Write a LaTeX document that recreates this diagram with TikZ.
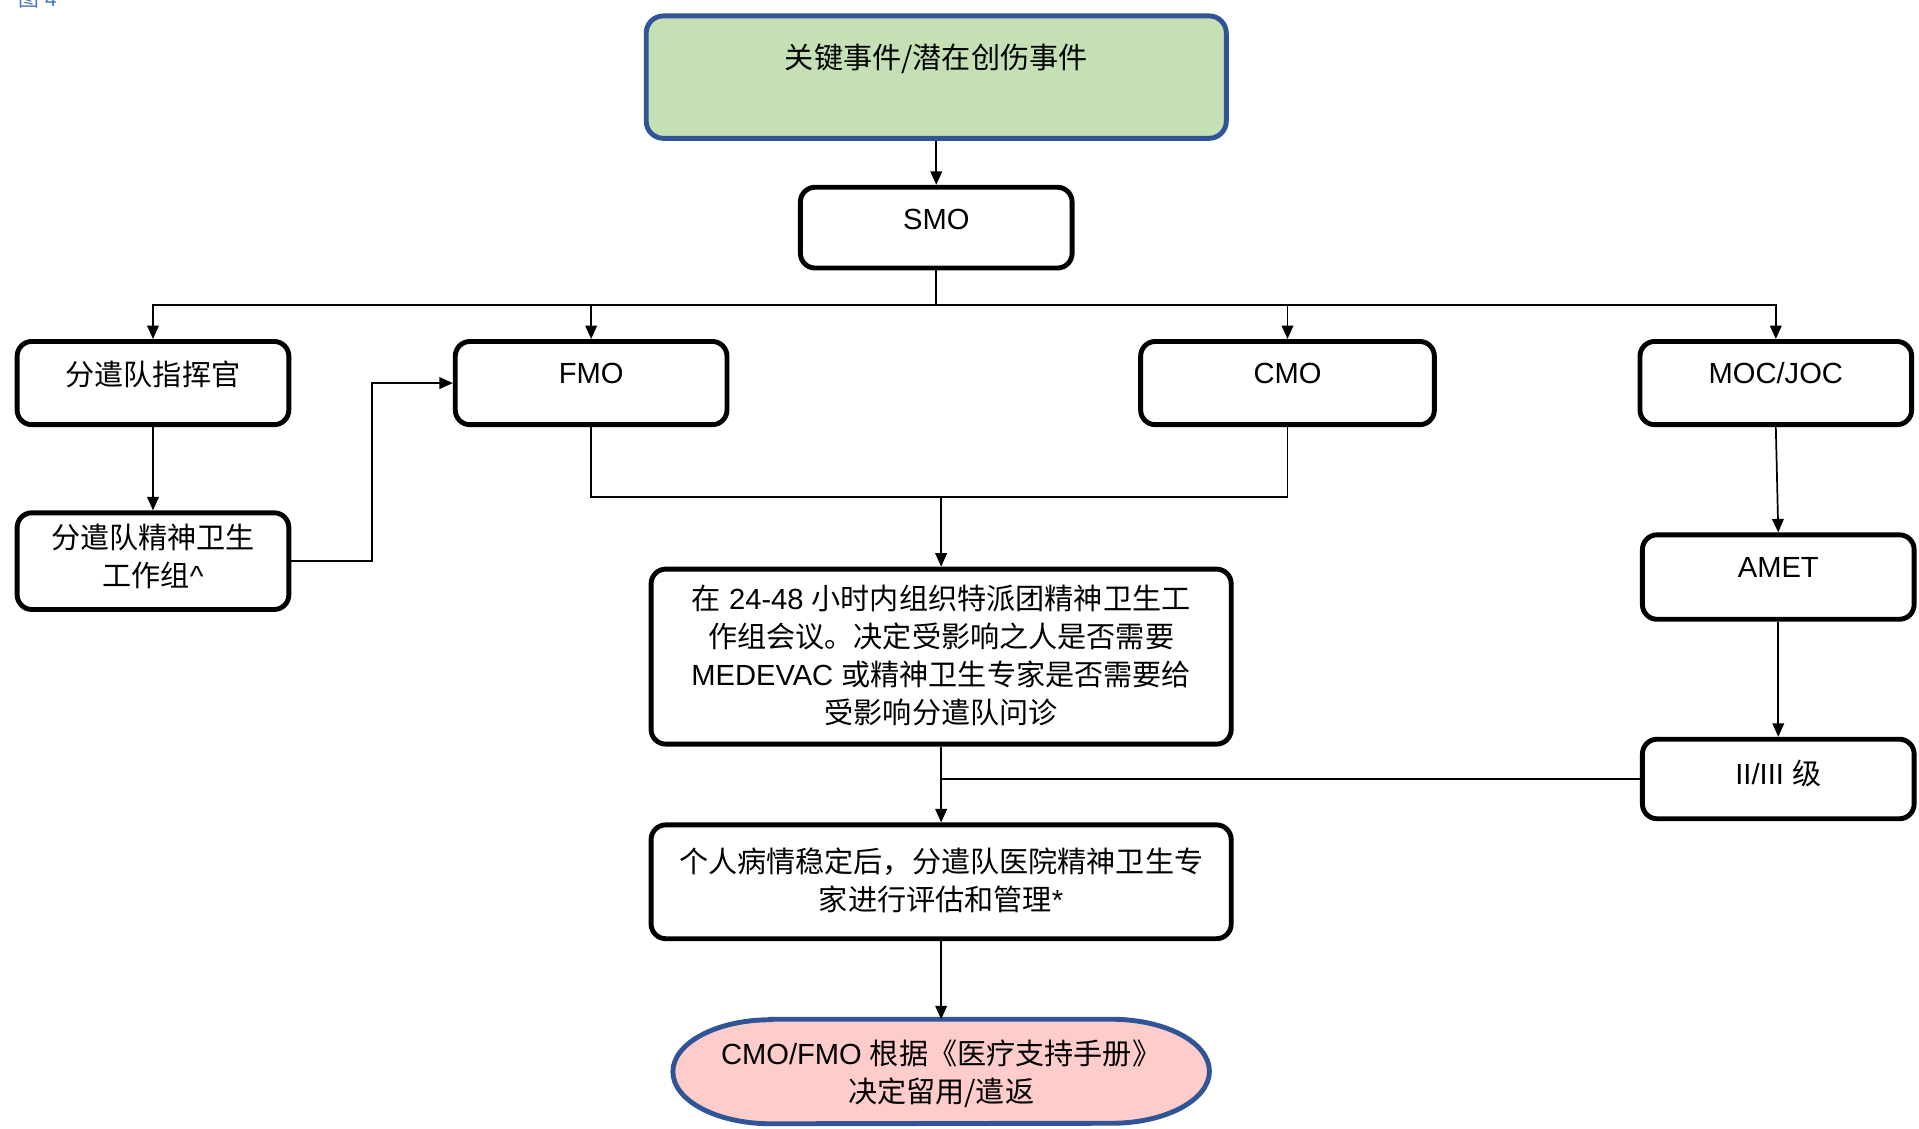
\documentclass[tikz,border=0pt]{standalone}
\usepackage{fontspec}
\setmainfont{Liberation Sans}
\newfontfamily\cjkfont{Noto Sans CJK SC}
\newcommand\zh[1]{{\cjkfont #1}}
\usetikzlibrary{arrows.meta,calc}
\definecolor{edgeblue}{HTML}{2F5597}
\definecolor{eventgreen}{HTML}{C5E0B4}
\definecolor{outcomepink}{HTML}{FFCCCC}
\definecolor{captionblue}{HTML}{4472C4}
\tikzset{
  stepbox/.style={draw=black, line width=4pt, rounded corners=12pt, fill=white,
    inner sep=0pt, minimum width=#1},
  stepbox/.default=222pt,
  boxtext/.style={font=\fontsize{23.8}{31}\selectfont, align=center, inner sep=0pt},
  link/.style={line width=1.4pt, draw=black},
  arr/.style={link, -{Triangle[length=11pt,width=9.5pt]}},
}
\begin{document}
\begin{tikzpicture}[x=1pt,y=1pt]
\useasboundingbox (0,0) rectangle (1568,-922);
\fill[white] (0,0) rectangle (1568,-922);

% figure caption at the top edge
\node[anchor=base west, text=captionblue, font=\fontsize{17}{17}\selectfont, inner sep=0pt]
  (caption) at (15,-5.5) {\zh{图} 4};

% ---- boxes ----
\node[stepbox=474pt, minimum height=100pt, draw=edgeblue, fill=eventgreen, rounded corners=14pt]
  (event) at (765,-63) {};
\node[boxtext] (event-t) at (765,-48) {\zh{关键事件/潜在创伤事件}};

\node[stepbox, minimum height=66pt] (smo) at (765,-186) {};
\node[boxtext] (smo-t) at (765,-179) {SMO};

\node[stepbox, minimum height=68pt] (cmd) at (125,-313) {};
\node[boxtext] (cmd-t) at (125,-306) {\zh{分遣队指挥官}};

\node[stepbox, minimum height=68pt] (fmo) at (483,-313) {};
\node[boxtext] (fmo-t) at (483,-305) {FMO};

\node[stepbox=240pt, minimum height=68pt] (cmo) at (1052,-313) {};
\node[boxtext] (cmo-t) at (1052,-305) {CMO};

\node[stepbox, minimum height=68pt] (moc) at (1451,-313) {};
\node[boxtext] (moc-t) at (1451,-305) {MOC/JOC};

\node[stepbox, minimum height=79pt] (grp) at (125,-458.5) {};
\node[boxtext] (grp-t) at (125,-455) {\zh{分遣队精神卫生}\\\zh{工作组}\textasciicircum};

\node[stepbox=474pt, minimum height=143pt] (meet) at (769,-536.5) {};
\node[boxtext] (meet-t) at (769,-535.5)
  {\zh{在} 24-48 \zh{小时内组织特派团精神卫生工}\\
   \zh{作组会议。决定受影响之人是否需要}\\
   MEDEVAC \zh{或精神卫生专家是否需要给}\\
   \zh{受影响分遣队问诊}};

\node[stepbox, minimum height=69pt] (amet) at (1453,-471.5) {};
\node[boxtext] (amet-t) at (1453,-464) {AMET};

\node[stepbox, minimum height=65pt] (lvl) at (1453,-636.5) {};
\node[boxtext] (lvl-t) at (1453,-632) {II/III \zh{级}};

\node[stepbox=474pt, minimum height=93pt] (care) at (769,-720.5) {};
\node[boxtext] (care-t) at (769,-719.5)
  {\zh{个人病情稳定后，分遣队医院精神卫生专}\\\zh{家进行评估和管理}*};

% terminator with elliptic ends
\node[minimum width=438pt, minimum height=85pt, inner sep=0pt] (final) at (769,-875.5) {};
\draw[line width=4pt, draw=edgeblue, fill=outcomepink]
  ($(final.north west)+(80,0)$) -- ($(final.north east)+(-80,0)$)
  arc[start angle=90, end angle=-90, x radius=80pt, y radius=42.5pt]
  -- ($(final.south west)+(80,0)$)
  arc[start angle=270, end angle=90, x radius=80pt, y radius=42.5pt] -- cycle;
\node[boxtext] (final-t) at (769,-877.5)
  {CMO/FMO \zh{根据《医疗支持手册》}\\\zh{决定留用/遣返}};

% ---- connectors ----
\draw[arr] (event.south) -- (smo.south |- event.south) -- (smo.north);
\coordinate (bus) at (765,-249);
\draw[link] (smo.south) -- (bus);
\draw[arr] (bus) -| (cmd.north);
\draw[arr] (bus) -| (fmo.north);
\draw[arr] (bus) -| (cmo.north);
\draw[arr] (bus) -| (moc.north);

\draw[arr] (cmd.south) -- (grp.north);
\draw[arr] (grp.east) -- ++(66,0) |- (fmo.west);

\draw[link] (fmo.south) -- ++(0,-57) -| (cmo.south);
\coordinate (split) at (769,-406);
\draw[arr] (split) -- (meet.north);

\draw[arr] (moc.south) -- (amet.north);
\draw[arr] (amet.south) -- (lvl.north);
\draw[link] (lvl.west) -- (lvl.west -| meet.south);

\draw[arr] (meet.south) -- (care.north);
\draw[arr] (care.south) -- (final.north);
\end{tikzpicture}
\end{document}
